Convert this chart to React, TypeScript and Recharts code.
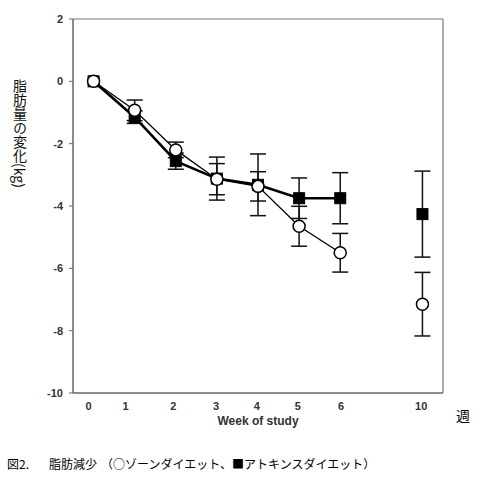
import React from "react";
import { LineChart, Line, XAxis, YAxis, ErrorBar, ReferenceLine } from "recharts";

const weekLabels = ["0", "1", "2", "3", "4", "5", "6", "10"];
const weekPos = [0, 1, 2, 3, 4, 5, 6, 8];
const labelPos = [-0.12, 0.78, 1.94, 2.98, 3.97, 4.97, 6.02, 7.97];
const minorTicks = [0.5, 1.5, 2.5, 3.5, 4.5, 5.5, 6.5, 7.5];
const yTicks = [-10, -8, -6, -4, -2, 0, 2];

const zone = [0, -0.93, -2.2, -3.14, -3.37, -4.65, -5.5, -7.15];
const zoneErr = [0, 0.33, 0.25, 0.5, 0.47, 0.64, 0.62, 1.02];
const atkins = [0, -1.15, -2.56, -3.12, -3.32, -3.75, -3.75, -4.26];
const atkinsErr = [0, 0.2, 0.26, 0.69, 0.99, 0.65, 0.82, 1.38];

const rows: any[] = [];
weekPos.forEach((p, i) => {
  if (i > 0 && p - weekPos[i - 1] > 1) {
    rows.push({ pos: p - 1, zone: null, atkins: null, zoneErr: null, atkinsErr: null });
  }
  rows.push({ pos: p, zone: zone[i], zoneErr: zoneErr[i], atkins: atkins[i], atkinsErr: atkinsErr[i] });
});

const CircleDot = (props: any) => {
  const { cx, cy, value } = props;
  if (value == null || cx == null || cy == null) return <g />;
  return <circle cx={cx} cy={cy} r={6} fill="#fff" stroke="#000" strokeWidth={1.5} />;
};

const SquareDot = (props: any) => {
  const { cx, cy, value } = props;
  if (value == null || cx == null || cy == null) return <g />;
  return <rect x={cx - 5.5} y={cy - 5.5} width={11} height={11} fill="#000" stroke="#000" />;
};

const tickFont = { fontFamily: "Arial, 'Liberation Sans', sans-serif", fontSize: 11, fontWeight: 700, fill: "#333" };

export default function App() {
  return (
    <div style={{ position: "absolute", left: 0, top: 0, width: 482, height: 479, background: "#fff" }}>
      <LineChart width={482} height={479} data={rows} margin={{ top: 19, right: 39, left: 33, bottom: 56 }}>
        <XAxis
          xAxisId="minor"
          dataKey="pos"
          type="number"
          domain={[-0.5, 8.5]}
          ticks={minorTicks}
          tickFormatter={() => ""}
          tickSize={3}
          tickLine={{ stroke: "#666" }}
          axisLine={false}
          height={0}
          allowDataOverflow
        />
        <XAxis
          dataKey="pos"
          type="number"
          domain={[-0.5, 8.5]}
          ticks={labelPos}
          tickFormatter={(_v: any, i: number) => weekLabels[i]}
          tickSize={0}
          tickMargin={9}
          tickLine={false}
          axisLine={{ stroke: "#666", strokeWidth: 1.5 }}
          tick={tickFont}
          height={30}
          interval={0}
          allowDataOverflow
        />
        <YAxis
          type="number"
          domain={[-10, 2]}
          ticks={yTicks}
          tickSize={4}
          tickMargin={6}
          tickLine={{ stroke: "#666" }}
          axisLine={{ stroke: "#666", strokeWidth: 1.5 }}
          tick={tickFont}
          width={40}
          interval={0}
        />
        <ReferenceLine y={2} stroke="#777" strokeWidth={1.2} />
        <ReferenceLine x={8.5} stroke="#777" strokeWidth={1.2} />
        <Line
          dataKey="atkins"
          stroke="#000"
          strokeWidth={2.6}
          dot={<SquareDot />}
          activeDot={false}
          isAnimationActive={false}
          connectNulls={false}
        >
          <ErrorBar dataKey="atkinsErr" width={8} stroke="#111" strokeWidth={1.5} direction="y" />
        </Line>
        <Line
          dataKey="zone"
          stroke="#000"
          strokeWidth={1.3}
          dot={<CircleDot />}
          activeDot={false}
          isAnimationActive={false}
          connectNulls={false}
        >
          <ErrorBar dataKey="zoneErr" width={8} stroke="#111" strokeWidth={1.5} direction="y" />
        </Line>
      </LineChart>
      <div
        style={{
          position: "absolute",
          left: 12,
          top: 79,
          writingMode: "vertical-rl",
          fontFamily: "'Noto Sans CJK JP', sans-serif",
          fontSize: 14,
          lineHeight: "16px",
          color: "#111",
        }}
      >
        脂肪量の変化(kg)
      </div>
      <div
        style={{
          position: "absolute",
          left: 200,
          width: 116,
          top: 414,
          textAlign: "center",
          fontFamily: "Arial, 'Liberation Sans', sans-serif",
          fontSize: 12,
          fontWeight: 700,
          color: "#333",
        }}
      >
        Week of study
      </div>
      <div
        style={{
          position: "absolute",
          left: 456,
          top: 405,
          fontFamily: "'Noto Sans CJK JP', sans-serif",
          fontSize: 14,
          color: "#000",
        }}
      >
        週
      </div>
      <div
        style={{
          position: "absolute",
          left: 7,
          top: 455,
          fontFamily: "'Noto Sans CJK JP', sans-serif",
          fontSize: 12,
          color: "#000",
          whiteSpace: "nowrap",
        }}
      >
        <span>図2.</span>
        <span style={{ position: "absolute", left: 42 }}>脂肪減少</span>
        <span style={{ position: "absolute", left: 94 }}>（○ゾーンダイエット、■アトキンスダイエット）</span>
      </div>
    </div>
  );
}
